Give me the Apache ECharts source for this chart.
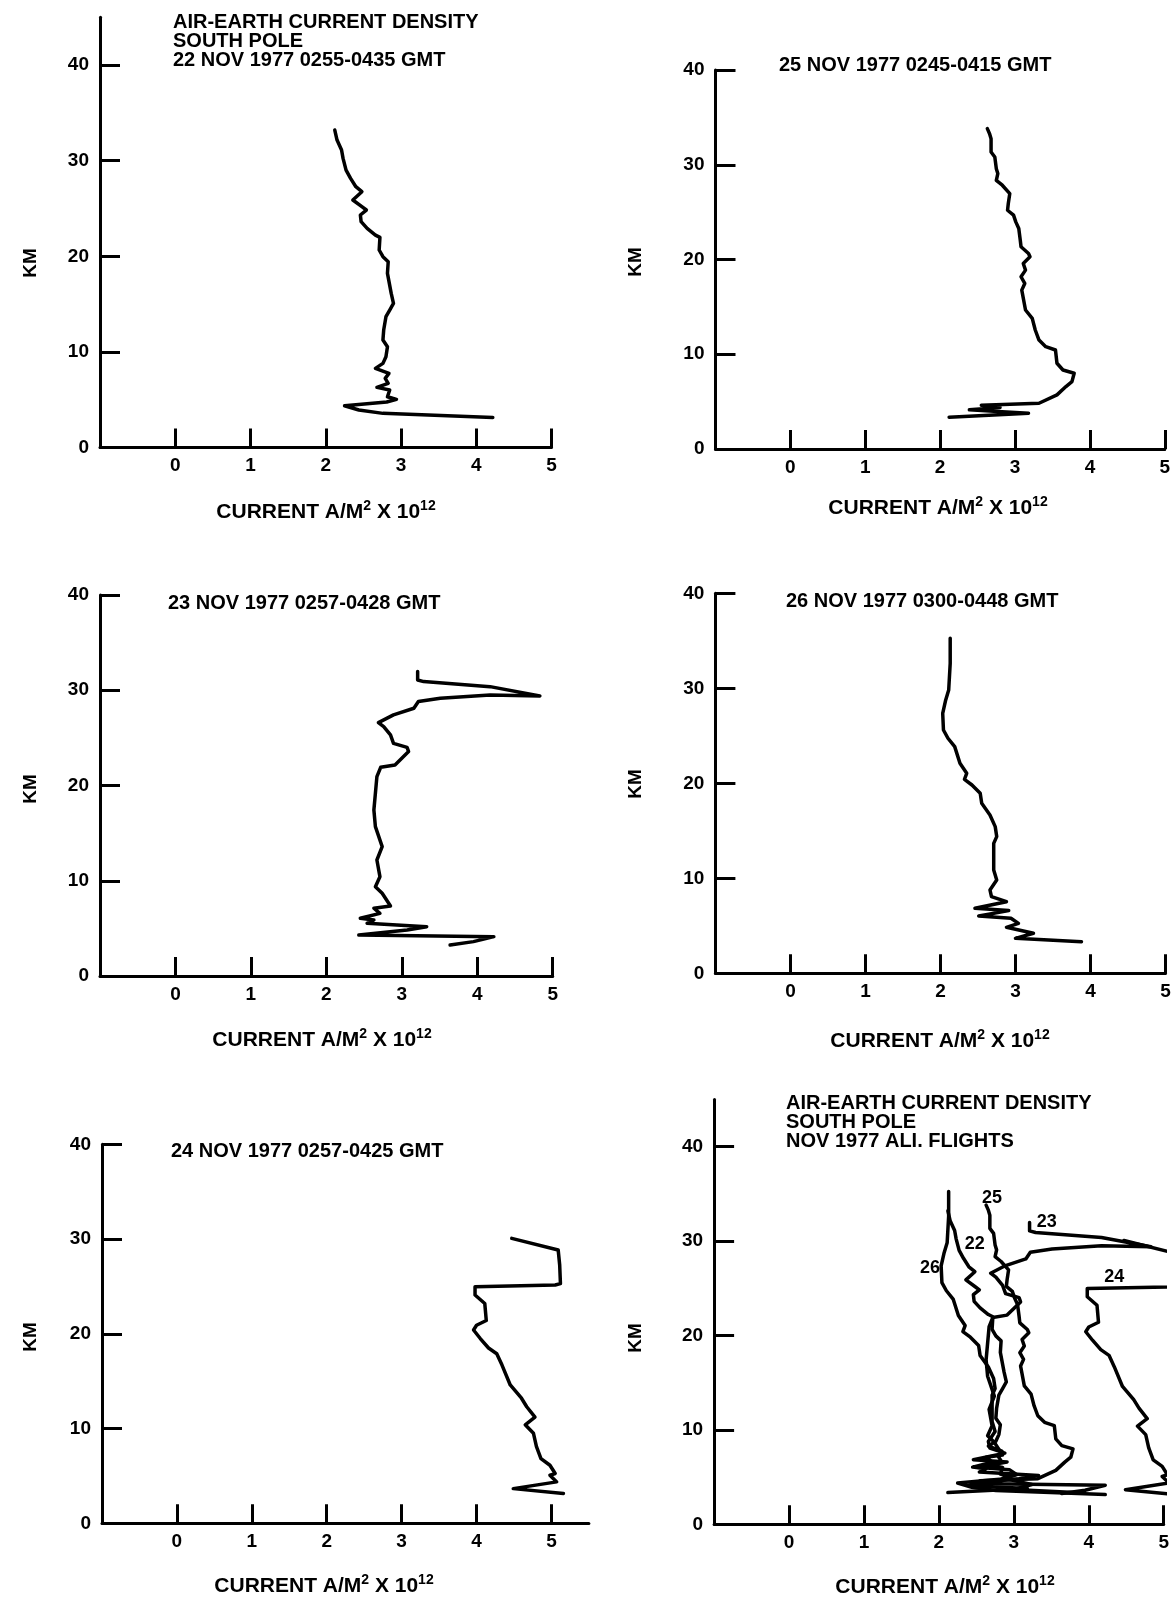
<!DOCTYPE html>
<html><head><meta charset="utf-8">
<script src="https://cdn.jsdelivr.net/npm/echarts@6/dist/echarts.min.js"></script>
<style>html,body{margin:0;padding:0;background:#fff;}#c{width:1172px;height:1601px;}</style>
</head><body><div id="c"></div>
<script>
// ---------------- DATA ----------------
// Flight 22 Nov 1977
const km22  = [33.21,32.16,31.12,30.24,30.07,29.02,28.15,27.28,26.76,25.89,25.19,24.84,24.32,23.62,22.92,22.22,21.98,20.66,19.96,19.43,18.21,16.12,15.08,14.38,13.68,12.29,11.24,10.54,9.50,8.80,8.28,7.75,7.23,6.71,6.29,6.01,5.31,5.04,4.76,4.37,3.92,3.57,3.15];
const cur22 = [2.12,2.15,2.21,2.23,2.25,2.27,2.33,2.40,2.48,2.36,2.48,2.54,2.46,2.47,2.55,2.66,2.72,2.71,2.76,2.83,2.82,2.87,2.90,2.85,2.80,2.77,2.76,2.82,2.80,2.76,2.66,2.84,2.79,2.83,2.68,2.85,2.82,2.94,2.81,2.25,2.44,2.76,4.22];
// Flight 23 Nov 1977
const km23  = [31.96,31.08,30.91,30.38,29.40,29.51,29.16,28.81,28.11,27.41,26.60,26.18,25.31,24.43,24.01,23.56,22.86,22.16,21.91,20.93,19.18,17.43,15.68,13.58,12.18,10.43,9.38,8.68,7.35,7.11,6.58,6.06,5.88,5.53,5.18,4.83,4.31,4.13,3.61,3.26];
const cur23 = [3.21,3.21,3.29,4.17,4.83,4.17,3.51,3.22,3.16,2.89,2.69,2.76,2.85,2.89,3.07,3.09,3.00,2.91,2.72,2.67,2.65,2.63,2.65,2.74,2.67,2.71,2.65,2.74,2.85,2.63,2.71,2.45,2.63,2.54,3.33,3.07,2.43,4.22,3.95,3.64];
// Flight 24 Nov 1977
const km24  = [30.07,28.84,27.26,25.30,25.15,24.97,24.10,23.20,21.40,20.90,20.40,19.50,18.50,17.90,16.70,14.60,13.20,12.30,11.20,10.40,9.50,8.10,6.83,6.13,5.25,5.07,4.37,3.66,3.15];
const cur24 = [4.47,5.09,5.11,5.12,5.05,3.98,3.98,4.11,4.13,4.00,3.96,4.05,4.16,4.27,4.34,4.45,4.60,4.67,4.78,4.65,4.76,4.80,4.86,4.98,5.05,4.98,5.07,4.49,5.16];
// Flight 25 Nov 1977
const km25  = [33.81,33.28,32.75,31.35,30.82,29.59,29.07,28.36,27.84,26.96,25.91,25.20,24.68,23.97,23.27,22.04,21.34,20.64,20.29,19.58,18.88,18.18,17.47,16.77,14.67,13.79,12.56,11.50,10.80,10.45,9.05,8.34,7.99,7.11,6.59,5.71,4.83,4.62,4.37,4.13,3.95,3.78,3.36];
const cur25 = [2.63,2.66,2.68,2.68,2.73,2.75,2.77,2.75,2.83,2.93,2.91,2.90,2.98,3.01,3.05,3.07,3.08,3.18,3.20,3.11,3.14,3.08,3.13,3.09,3.14,3.23,3.27,3.32,3.41,3.54,3.56,3.64,3.79,3.76,3.68,3.56,3.32,2.55,2.80,2.39,2.77,3.18,2.12];
// Flight 26 Nov 1977
const km26  = [35.26,32.63,29.82,28.77,27.37,25.61,24.74,23.86,22.11,21.05,20.42,19.82,18.95,17.89,16.67,15.44,14.39,13.68,10.88,9.82,8.77,8.07,7.54,6.84,6.60,6.03,5.79,5.26,4.84,4.21,3.68,3.33];
const cur26 = [2.13,2.13,2.11,2.07,2.03,2.04,2.10,2.19,2.26,2.35,2.32,2.42,2.53,2.55,2.66,2.73,2.75,2.71,2.71,2.75,2.66,2.68,2.88,2.46,2.91,2.51,2.94,3.04,2.88,3.24,3.00,3.88];

// Tick values / labels
const xTickValues = [0, 1, 2, 3, 4, 5];
const yTickValues = [10, 20, 30, 40];
const yLabelValues = [0, 10, 20, 30, 40];

// Flight labels in the combined panel
const flightNames = ['22', '23', '24', '25', '26'];
const flightLabelCurrent = [2.48, 3.44, 4.34, 2.71, 1.88];
const flightLabelKm = [29.7, 32.0, 26.2, 34.6, 27.2];

// Panel titles
const title22 = ['AIR-EARTH CURRENT DENSITY', 'SOUTH POLE', '22 NOV 1977 0255-0435 GMT'];
const title25 = ['25 NOV 1977 0245-0415 GMT'];
const title23 = ['23 NOV 1977 0257-0428 GMT'];
const title26 = ['26 NOV 1977 0300-0448 GMT'];
const title24 = ['24 NOV 1977 0257-0425 GMT'];
const titleAll = ['AIR-EARTH CURRENT DENSITY', 'SOUTH POLE', 'NOV 1977 ALI. FLIGHTS'];
const yAxisName = 'KM';

// ---------------- LAYOUT ----------------
const FAM = '"Liberation Sans", Arial, Helvetica, sans-serif';
const flights = {
  '22': [cur22, km22], '23': [cur23, km23], '24': [cur24, km24],
  '25': [cur25, km25], '26': [cur26, km26]
};
const panels = [
  { flights: ['22'], grid: { left: 100, top: 17.3, width: 451.5, height: 430.2 }, xMax: 5, yMax: 45,
    title: title22, titleX: 173, titleY: 22, kmPos: [31, 263], curPos: [326, 512] },
  { flights: ['25'], grid: { left: 715.5, top: 70, width: 449.3, height: 379 }, xMax: 5, yMax: 40,
    title: title25, titleX: 779, titleY: 65.5, kmPos: [636, 262], curPos: [938, 508] },
  { flights: ['23'], grid: { left: 100, top: 595, width: 452.7, height: 381 }, xMax: 5, yMax: 40,
    title: title23, titleX: 168, titleY: 603, kmPos: [31, 789], curPos: [322, 1040] },
  { flights: ['26'], grid: { left: 715.4, top: 593.3, width: 450.1, height: 380 }, xMax: 5, yMax: 40,
    title: title26, titleX: 786, titleY: 601.7, kmPos: [636, 784], curPos: [940, 1041] },
  { flights: ['24'], grid: { left: 102, top: 1144.3, width: 486.9, height: 379 }, xMax: 5.5, yMax: 40,
    title: title24, titleX: 171, titleY: 1151.7, kmPos: [31, 1337], curPos: [324, 1586] },
  { flights: ['22', '23', '24', '25', '26'], grid: { left: 714.1, top: 1099.5, width: 449.6, height: 424.8 }, xMax: 5, yMax: 45,
    title: titleAll, titleX: 786, titleY: 1103.3, kmPos: [636, 1338], curPos: [945, 1587], labels: true }
];

const black = '#000';
const grid = [], xAxis = [], yAxis = [], series = [], graphic = [];

panels.forEach((p, i) => {
  grid.push(Object.assign({ containLabel: false, outerBoundsMode: 'none' }, p.grid));
  xAxis.push({
    gridIndex: i, type: 'value', min: -1, max: p.xMax, interval: 1,
    axisLine: { show: true, onZero: false, lineStyle: { color: black, width: 3 } },
    axisTick: { show: true, inside: true, length: 19, customValues: xTickValues, lineStyle: { color: black, width: 3 } },
    axisLabel: { show: true, customValues: xTickValues, margin: 9, color: black, fontSize: 19, fontWeight: 'bold', fontFamily: FAM },
    splitLine: { show: false }
  });
  yAxis.push({
    gridIndex: i, type: 'value', min: 0, max: p.yMax, interval: 10,
    axisLine: { show: true, onZero: false, lineStyle: { color: black, width: 3 } },
    axisTick: { show: true, inside: true, length: 20, customValues: yTickValues, lineStyle: { color: black, width: 3 } },
    axisLabel: { show: true, customValues: yLabelValues, margin: 11, color: black, fontSize: 19, fontWeight: 'bold', fontFamily: FAM },
    splitLine: { show: false }
  });
  p.flights.forEach(f => {
    const [c, k] = flights[f];
    series.push({
      type: 'line', xAxisIndex: i, yAxisIndex: i, name: f,
      data: c.map((v, j) => [v, k[j]]),
      symbol: 'none', smooth: false, clip: false,
      lineStyle: { color: black, width: 3.5, cap: 'round', join: 'round' }
    });
  });
  if (p.labels) {
    series.push({
      type: 'scatter', xAxisIndex: i, yAxisIndex: i, symbolSize: 0,
      itemStyle: { color: '#fff', opacity: 1 },
      data: flightNames.map((n, j) => ({ name: n, value: [flightLabelCurrent[j], flightLabelKm[j]] })),
      label: { show: true, position: 'inside', formatter: q => q.name, color: black, opacity: 1,
        textBorderWidth: 0, textBorderColor: 'transparent',
        fontSize: 18, fontWeight: 'bold', fontFamily: FAM }
    });
  }
  p.title.forEach((t, j) => {
    graphic.push({ type: 'text', x: p.titleX, y: p.titleY + j * 19,
      style: { text: t, font: 'bold 20px ' + FAM, fill: black, align: 'left', verticalAlign: 'middle' } });
  });
  graphic.push({ type: 'text', x: p.kmPos[0], y: p.kmPos[1], rotation: Math.PI / 2,
    style: { text: yAxisName, font: 'bold 19px ' + FAM, fill: black, align: 'center', verticalAlign: 'middle' } });
  graphic.push({ type: 'text', x: p.curPos[0], y: p.curPos[1],
    style: {
      text: '{a|CURRENT A/M}{s|2}{a| X 10}{s|12}', align: 'center', verticalAlign: 'middle',
      rich: {
        a: { font: 'bold 21px ' + FAM, fill: black, lineHeight: 26 },
        s: { font: 'bold 14px ' + FAM, fill: black, verticalAlign: 'top' }
      }
    } });
});

const chart = echarts.init(document.getElementById('c'), null, { renderer: 'canvas' });
chart.setOption({ animation: false, backgroundColor: '#fff', grid, xAxis, yAxis, series, graphic });
</script></body></html>
